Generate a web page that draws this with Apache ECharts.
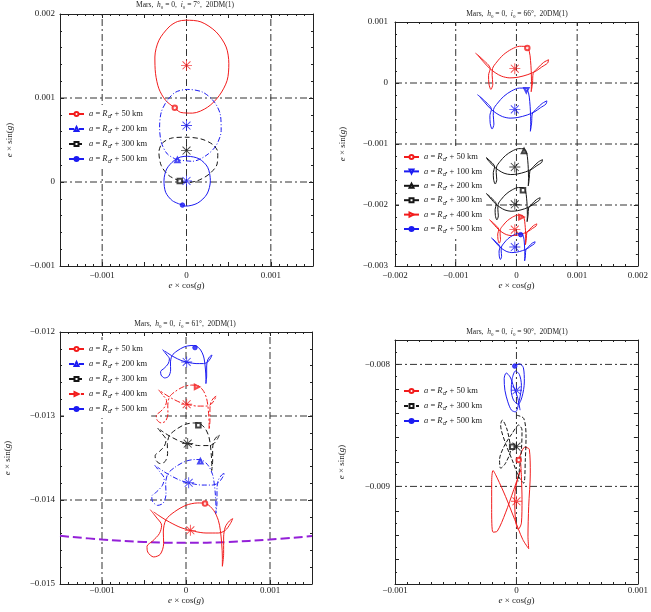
<!DOCTYPE html>
<html>
<head>
<meta charset="utf-8">
<script src="https://cdn.jsdelivr.net/npm/echarts@6/dist/echarts.min.js"></script>
<style>
html, body { margin: 0; padding: 0; background: #fff; }
#chart { width: 651px; height: 612px; }
</style>
</head>
<body>
<div id="chart"></div>
<script>
const MILLI = 1e-3;

// ---- axis ranges [min, max, tick step, minor split] and labelled ticks ----
const p1XRange = [-1.5, 1.5, 0.5, 5], p1YRange = [-1, 2, 1, 5];
const p2XRange = [-2, 2, 1, 5],       p2YRange = [-3, 1, 1, 5];
const p3XRange = [-1.5, 1.5, 0.5, 5], p3YRange = [-15, -12, 1, 5];
const p4XRange = [-1, 1, 1, 10],      p4YRange = [-9.8, -7.8, 0.2, 2];

const p1XLabels = [-1, 0, 1],          p1YLabels = [-1, 0, 1, 2];
const p2XLabels = [-2, -1, 0, 1, 2],   p2YLabels = [-3, -2, -1, 0, 1];
const p3XLabels = [-1, 0, 1],          p3YLabels = [-15, -14, -13, -12];
const p4XLabels = [-1, 0, 1],          p4YLabels = [-9, -8];

// dash-dot reference lines
const p1VLines = [-1, 0, 1], p1HLines = [0, 1];
const p2VLines = [-1, 0, 1], p2HLines = [-2, -1, 0];
const p3VLines = [-1, 0, 1], p3HLines = [-14, -13];
const p4VLines = [0],        p4HLines = [-9, -8];

const inclinations = ['7°', '66°', '61°', '90°'];

// ---- panel 1 : i0 = 7 deg ----
const p1Red50 = [[-0.139,0.883],[-0.247,0.971],[-0.327,1.110],[-0.367,1.289],[-0.375,1.488],[-0.327,1.687],[-0.207,1.846],[-0.108,1.910],[-0.008,1.926],[0.171,1.906],[0.351,1.787],[0.470,1.608],[0.502,1.409],[0.482,1.210],[0.390,1.031],[0.251,0.891],[0.072,0.820],[-0.068,0.828],[-0.139,0.883]];
const p1Blue200 = [[-0.108,0.263],[-0.228,0.334],[-0.299,0.474],[-0.319,0.653],[-0.299,0.832],[-0.228,0.971],[-0.128,1.070],[0.012,1.102],[0.191,1.070],[0.331,0.951],[0.403,0.792],[0.411,0.613],[0.351,0.434],[0.231,0.314],[0.072,0.247],[-0.108,0.263]];
const p1Black300 = [[-0.080,0.012],[-0.208,0.076],[-0.299,0.195],[-0.327,0.354],[-0.287,0.462],[-0.167,0.525],[-0.008,0.533],[0.171,0.513],[0.311,0.446],[0.371,0.354],[0.363,0.215],[0.271,0.096],[0.132,0.016],[-0.008,-0.008],[-0.080,0.012]];
const p1Blue500 = [[-0.048,-0.275],[-0.167,-0.223],[-0.247,-0.123],[-0.267,0.016],[-0.235,0.155],[-0.148,0.255],[-0.068,0.298],[0.012,0.306],[0.151,0.275],[0.251,0.175],[0.283,0.016],[0.243,-0.143],[0.132,-0.251],[-0.008,-0.287],[-0.048,-0.275]];
const p1Stars = [[0,1.389],[0,0.672],[0,0.374],[0,0.012]];
const p1Starts = [[-0.139,0.883],[-0.108,0.263],[-0.080,0.012],[-0.048,-0.275]];

// ---- panel 2 : i0 = 66 deg ----
const p2Red50 = [[-0.675,0.489],[-0.567,0.397],[-0.432,0.235],[-0.459,0.127],[-0.454,-0.008],[-0.421,-0.105],[-0.389,-0.019],[-0.400,0.127],[-0.394,0.235],[-0.324,0.343],[-0.216,0.462],[-0.081,0.554],[0.054,0.602],[0.162,0.597],[0.211,0.521],[0.232,0.370],[0.243,0.208],[0.248,0.019],[0.243,-0.143],[0.265,0.003],[0.275,0.154],[0.351,0.246],[0.448,0.338],[0.529,0.381],[0.513,0.327],[0.416,0.262],[0.324,0.197],[0.189,0.138],[0.027,0.095],[-0.108,0.084],[-0.243,0.111],[-0.351,0.170],[-0.448,0.246],[-0.540,0.343],[-0.632,0.451]];
const p2Blue100 = [[-0.643,-0.191],[-0.540,-0.278],[-0.412,-0.432],[-0.437,-0.535],[-0.432,-0.663],[-0.401,-0.755],[-0.371,-0.673],[-0.381,-0.535],[-0.376,-0.432],[-0.309,-0.329],[-0.207,-0.217],[-0.078,-0.129],[0.050,-0.083],[0.153,-0.088],[0.199,-0.160],[0.219,-0.304],[0.230,-0.458],[0.235,-0.637],[0.230,-0.791],[0.250,-0.653],[0.260,-0.509],[0.332,-0.422],[0.424,-0.335],[0.501,-0.293],[0.486,-0.345],[0.394,-0.406],[0.306,-0.468],[0.178,-0.524],[0.024,-0.565],[-0.104,-0.576],[-0.232,-0.550],[-0.335,-0.494],[-0.427,-0.422],[-0.514,-0.329],[-0.602,-0.227]];
const p2Black200 = [[-0.559,-1.169],[-0.470,-1.244],[-0.359,-1.377],[-0.381,-1.466],[-0.377,-1.576],[-0.350,-1.656],[-0.324,-1.585],[-0.333,-1.466],[-0.328,-1.377],[-0.271,-1.288],[-0.182,-1.191],[-0.071,-1.116],[0.039,-1.076],[0.128,-1.080],[0.168,-1.142],[0.186,-1.266],[0.195,-1.399],[0.199,-1.554],[0.195,-1.687],[0.212,-1.567],[0.221,-1.443],[0.283,-1.368],[0.363,-1.293],[0.429,-1.257],[0.416,-1.302],[0.336,-1.355],[0.261,-1.408],[0.150,-1.457],[0.017,-1.492],[-0.093,-1.501],[-0.204,-1.479],[-0.293,-1.430],[-0.373,-1.368],[-0.448,-1.288],[-0.523,-1.200]];
const p2Black300 = [[-0.513,-1.799],[-0.432,-1.867],[-0.331,-1.989],[-0.351,-2.070],[-0.347,-2.171],[-0.323,-2.244],[-0.298,-2.179],[-0.306,-2.070],[-0.302,-1.989],[-0.250,-1.908],[-0.169,-1.819],[-0.068,-1.750],[0.034,-1.714],[0.115,-1.718],[0.151,-1.774],[0.167,-1.888],[0.176,-2.009],[0.180,-2.151],[0.176,-2.273],[0.192,-2.163],[0.200,-2.050],[0.257,-1.981],[0.329,-1.912],[0.390,-1.880],[0.378,-1.920],[0.305,-1.969],[0.236,-2.017],[0.135,-2.062],[0.014,-2.094],[-0.088,-2.102],[-0.189,-2.082],[-0.270,-2.038],[-0.343,-1.981],[-0.412,-1.908],[-0.481,-1.827]];
const p2Red400 = [[-0.448,-2.239],[-0.378,-2.299],[-0.290,-2.404],[-0.308,-2.474],[-0.304,-2.562],[-0.283,-2.625],[-0.262,-2.569],[-0.269,-2.474],[-0.266,-2.404],[-0.220,-2.334],[-0.150,-2.257],[-0.062,-2.197],[0.026,-2.165],[0.096,-2.169],[0.127,-2.218],[0.141,-2.316],[0.149,-2.422],[0.152,-2.544],[0.149,-2.650],[0.163,-2.555],[0.170,-2.457],[0.219,-2.397],[0.282,-2.337],[0.335,-2.309],[0.324,-2.344],[0.261,-2.386],[0.201,-2.429],[0.113,-2.467],[0.008,-2.495],[-0.080,-2.502],[-0.167,-2.485],[-0.238,-2.446],[-0.301,-2.397],[-0.360,-2.334],[-0.420,-2.264]];
const p2Blue500 = [[-0.416,-2.537],[-0.351,-2.592],[-0.270,-2.689],[-0.286,-2.754],[-0.283,-2.835],[-0.264,-2.893],[-0.244,-2.841],[-0.251,-2.754],[-0.247,-2.689],[-0.205,-2.624],[-0.140,-2.553],[-0.059,-2.498],[0.022,-2.469],[0.086,-2.472],[0.116,-2.517],[0.129,-2.608],[0.135,-2.705],[0.138,-2.819],[0.135,-2.916],[0.148,-2.828],[0.154,-2.738],[0.200,-2.683],[0.258,-2.627],[0.307,-2.602],[0.297,-2.634],[0.239,-2.673],[0.184,-2.712],[0.103,-2.747],[0.005,-2.773],[-0.076,-2.780],[-0.157,-2.764],[-0.221,-2.728],[-0.280,-2.683],[-0.335,-2.624],[-0.390,-2.559]];
const p2Stars = [[-0.027,0.235],[-0.027,-0.432],[-0.027,-1.377],[-0.027,-1.989],[-0.027,-2.404],[-0.027,-2.689]];
const p2Starts = [[0.179,0.574],[0.163,-0.120],[0.125,-1.115],[0.108,-1.760],[0.081,-2.197],[0.070,-2.486]];

// ---- panel 3 : i0 = 61 deg ----
const p3Red50 = [[-0.425,-14.115],[-0.357,-14.202],[-0.290,-14.301],[-0.317,-14.400],[-0.397,-14.488],[-0.464,-14.551],[-0.456,-14.619],[-0.385,-14.678],[-0.306,-14.646],[-0.266,-14.519],[-0.270,-14.381],[-0.238,-14.234],[-0.139,-14.142],[0,-14.063],[0.139,-14.035],[0.238,-14.043],[0.329,-14.123],[0.385,-14.242],[0.409,-14.361],[0.425,-14.519],[0.433,-14.678],[0.433,-14.789],[0.448,-14.639],[0.448,-14.440],[0.468,-14.321],[0.516,-14.250],[0.556,-14.222],[0.528,-14.281],[0.468,-14.361],[0.385,-14.393],[0.238,-14.393],[0.099,-14.373],[-0.060,-14.329],[-0.198,-14.262],[-0.298,-14.202],[-0.385,-14.142]];
const p3Blue200 = [[-0.373,-13.586],[-0.316,-13.660],[-0.259,-13.744],[-0.282,-13.828],[-0.350,-13.903],[-0.407,-13.957],[-0.400,-14.014],[-0.339,-14.064],[-0.272,-14.037],[-0.238,-13.929],[-0.242,-13.812],[-0.215,-13.687],[-0.130,-13.609],[-0.012,-13.542],[0.106,-13.518],[0.190,-13.525],[0.267,-13.593],[0.315,-13.694],[0.335,-13.795],[0.349,-13.929],[0.356,-14.064],[0.356,-14.159],[0.369,-14.031],[0.369,-13.862],[0.386,-13.761],[0.426,-13.701],[0.460,-13.677],[0.437,-13.727],[0.386,-13.795],[0.315,-13.822],[0.190,-13.822],[0.072,-13.805],[-0.063,-13.768],[-0.181,-13.711],[-0.266,-13.660],[-0.339,-13.609]];
const p3Black300 = [[-0.338,-13.143],[-0.287,-13.209],[-0.237,-13.283],[-0.257,-13.357],[-0.317,-13.423],[-0.367,-13.471],[-0.361,-13.522],[-0.308,-13.566],[-0.249,-13.542],[-0.219,-13.447],[-0.222,-13.343],[-0.198,-13.233],[-0.123,-13.164],[-0.019,-13.104],[0.085,-13.083],[0.160,-13.089],[0.228,-13.149],[0.270,-13.239],[0.288,-13.328],[0.300,-13.447],[0.306,-13.566],[0.306,-13.649],[0.317,-13.537],[0.317,-13.387],[0.332,-13.298],[0.368,-13.245],[0.398,-13.224],[0.377,-13.268],[0.332,-13.328],[0.270,-13.352],[0.160,-13.352],[0.055,-13.337],[-0.064,-13.304],[-0.168,-13.254],[-0.243,-13.209],[-0.308,-13.164]];
const p3Red400 = [[-0.326,-12.688],[-0.278,-12.749],[-0.231,-12.818],[-0.250,-12.887],[-0.306,-12.949],[-0.353,-12.993],[-0.348,-13.041],[-0.298,-13.082],[-0.243,-13.060],[-0.215,-12.971],[-0.217,-12.874],[-0.195,-12.771],[-0.126,-12.707],[-0.028,-12.651],[0.069,-12.632],[0.138,-12.637],[0.202,-12.693],[0.241,-12.777],[0.258,-12.860],[0.269,-12.971],[0.275,-13.082],[0.275,-13.160],[0.285,-13.055],[0.285,-12.915],[0.299,-12.832],[0.333,-12.782],[0.361,-12.763],[0.341,-12.804],[0.299,-12.860],[0.241,-12.882],[0.138,-12.882],[0.041,-12.868],[-0.070,-12.838],[-0.167,-12.791],[-0.237,-12.749],[-0.298,-12.707]];
const p3Blue500 = [[-0.278,-12.209],[-0.237,-12.262],[-0.197,-12.321],[-0.213,-12.380],[-0.261,-12.433],[-0.302,-12.471],[-0.297,-12.512],[-0.254,-12.547],[-0.207,-12.528],[-0.183,-12.452],[-0.185,-12.369],[-0.166,-12.281],[-0.107,-12.226],[-0.023,-12.178],[0.060,-12.161],[0.120,-12.166],[0.174,-12.214],[0.208,-12.286],[0.222,-12.357],[0.232,-12.452],[0.237,-12.547],[0.237,-12.614],[0.246,-12.524],[0.246,-12.404],[0.258,-12.333],[0.286,-12.290],[0.310,-12.274],[0.294,-12.309],[0.258,-12.357],[0.208,-12.376],[0.120,-12.376],[0.036,-12.364],[-0.059,-12.338],[-0.142,-12.298],[-0.202,-12.262],[-0.254,-12.226]];
const p3Boundary = [[-1.5,-14.426],[-1.0,-14.470],[-0.5,-14.500],[0,-14.510],[0.5,-14.500],[1.0,-14.470],[1.5,-14.430]];
const p3Stars = [[0.052,-14.361],[0.032,-13.795],[0.020,-13.328],[0.008,-12.860],[0.008,-12.357]];
const p3Starts = [[0.226,-14.043],[0.171,-13.538],[0.147,-13.110],[0.131,-12.654],[0.107,-12.186]];

// ---- panel 4 : i0 = 90 deg ----
const p4Red50 = [[0.019,-8.783],[0.068,-8.679],[0.106,-8.696],[0.114,-8.891],[0.101,-9.163],[0.095,-9.408],[0.101,-9.511],[0.052,-9.435],[-0.014,-9.272],[-0.090,-9.082],[-0.158,-8.932],[-0.193,-8.870],[-0.204,-8.973],[-0.204,-9.190],[-0.193,-9.375],[-0.158,-9.367],[-0.090,-9.217],[-0.022,-9.027],[0.035,-8.864],[0.014,-8.918],[-0.014,-9.082],[-0.008,-9.272],[0.014,-9.353],[0.041,-9.299],[0.046,-9.109],[0.041,-8.918],[0.035,-8.810]];
const p4Black300 = [[0,-8.416],[0.060,-8.443],[0.079,-8.592],[0.073,-8.783],[0.060,-8.973],[0.019,-8.921],[-0.035,-8.783],[-0.090,-8.647],[-0.130,-8.497],[-0.117,-8.457],[-0.076,-8.538],[-0.049,-8.701],[-0.090,-8.810],[-0.130,-8.851],[-0.139,-8.783],[-0.103,-8.674],[-0.035,-8.565],[0.019,-8.497],[0.046,-8.538],[0.041,-8.701],[0.024,-8.864],[0.014,-8.959]];
const p4Blue500 = [[-0.014,-8.014],[0.024,-7.995],[0.057,-8.027],[0.065,-8.144],[0.046,-8.266],[0.014,-8.326],[-0.024,-8.293],[-0.043,-8.212],[-0.035,-8.117],[-0.008,-8.054],[0.024,-8.082],[0.041,-8.171],[0.024,-8.293],[-0.008,-8.389],[-0.041,-8.375],[-0.071,-8.307],[-0.095,-8.212],[-0.101,-8.117],[-0.084,-8.071],[-0.052,-8.103],[-0.022,-8.185],[0.008,-8.266],[0.030,-8.375]];
const p4Stars = [[0,-9.122],[0,-8.674],[0,-8.212]];
const p4Starts = [[0.019,-8.783],[-0.035,-8.674],[-0.014,-8.014]];

// ---- styles ----
const RED = '#f21c1c', BLUE = '#1c1cf2', BLACK = '#161616', PURPLE = '#9420d8';
const SERIF = '"Liberation Serif", "DejaVu Serif", serif';
const TXT = '#222';
const STAR = 'path://M-1,-0.08L1,-0.08L1,0.08L-1,0.08Z M-0.08,-1L0.08,-1L0.08,1L-0.08,1Z M0.78,0.66L0.66,0.78L-0.78,-0.66L-0.66,-0.78Z M-0.66,0.78L-0.78,0.66L0.66,-0.78L0.78,-0.66Z';
const SYM = {
  50: ['emptyCircle', 0], 100: ['emptyTriangle', 180], 200: ['emptyTriangle', 0],
  300: ['emptyRect', 0], 400: ['emptyTriangle', -90], 500: ['circle', 0]
};
const DASH = [5, 2, 1, 2], LDASH = [5, 3], GRIDDASH = [7, 3, 2, 3];

const LAYOUT = [
  { grid: { left: 60, top: 14, width: 253, height: 252 }, title: [185, 5], xLab: 5, xName: 14, yLab: 5, yName: 46, legend: { left: 64, top: 105, itemGap: 3 } },
  { grid: { left: 395, top: 22, width: 246, height: 244 }, title: [517, 14], xLab: 5, xName: 14, yLab: 7, yName: 48, legend: { left: 399, top: 148, itemGap: 2.4 } },
  { grid: { left: 60, top: 332, width: 252, height: 252 }, title: [185, 324], xLab: 2, xName: 11, yLab: 5, yName: 48, legend: { left: 64, top: 340, itemGap: 3 } },
  { grid: { left: 395, top: 340, width: 246, height: 244 }, title: [517, 332], xLab: 2, xName: 11, yLab: 5, yName: 49, legend: { left: 399, top: 382, itemGap: 3 } }
];

const ranges = [[p1XRange, p1YRange], [p2XRange, p2YRange], [p3XRange, p3YRange], [p4XRange, p4YRange]];
const labels = [[p1XLabels, p1YLabels], [p2XLabels, p2YLabels], [p3XLabels, p3YLabels], [p4XLabels, p4YLabels]];
const refLines = [[p1VLines, p1HLines], [p2VLines, p2HLines], [p3VLines, p3HLines], [p4VLines, p4HLines]];

// [panel, km, colour, line type, curve, star, start marker]
const curves = [
  [0, 50, RED, 'solid', p1Red50, p1Stars[0], p1Starts[0]],
  [0, 200, BLUE, DASH, p1Blue200, p1Stars[1], p1Starts[1]],
  [0, 300, BLACK, LDASH, p1Black300, p1Stars[2], p1Starts[2]],
  [0, 500, BLUE, 'solid', p1Blue500, p1Stars[3], p1Starts[3]],
  [1, 50, RED, 'solid', p2Red50, p2Stars[0], p2Starts[0]],
  [1, 100, BLUE, 'solid', p2Blue100, p2Stars[1], p2Starts[1]],
  [1, 200, BLACK, 'solid', p2Black200, p2Stars[2], p2Starts[2]],
  [1, 300, BLACK, 'solid', p2Black300, p2Stars[3], p2Starts[3]],
  [1, 400, RED, 'solid', p2Red400, p2Stars[4], p2Starts[4]],
  [1, 500, BLUE, 'solid', p2Blue500, p2Stars[5], p2Starts[5]],
  [2, 50, RED, 'solid', p3Red50, p3Stars[0], p3Starts[0]],
  [2, 200, BLUE, DASH, p3Blue200, p3Stars[1], p3Starts[1]],
  [2, 300, BLACK, LDASH, p3Black300, p3Stars[2], p3Starts[2]],
  [2, 400, RED, [6, 2, 2, 2], p3Red400, p3Stars[3], p3Starts[3]],
  [2, 500, BLUE, 'solid', p3Blue500, p3Stars[4], p3Starts[4]],
  [3, 50, RED, 'solid', p4Red50, p4Stars[0], p4Starts[0]],
  [3, 300, BLACK, [4, 2], p4Black300, p4Stars[1], p4Starts[1]],
  [3, 500, BLUE, 'solid', p4Blue500, p4Stars[2], p4Starts[2]]
];

const toReal = p => [p[0] * MILLI, p[1] * MILLI];

function fmt(v) {
  const m = Math.round(v / MILLI);
  if (m === 0) return '0';
  return (m < 0 ? '\u2212' : '') + (Math.abs(m) * MILLI).toFixed(3);
}

function axisPair(g, dim, r, labs) {
  const lay = LAYOUT[g];
  const isX = dim === 'x';
  const base = {
    gridIndex: g, type: 'value',
    min: r[0] * MILLI, max: r[1] * MILLI, interval: r[2] * MILLI,
    axisLine: { show: true, onZero: false, lineStyle: { color: TXT, width: 1 } },
    axisTick: { show: true, inside: true, length: 4, lineStyle: { color: TXT } },
    minorTick: { show: true, splitNumber: r[3], length: 2, lineStyle: { color: TXT } },
    splitLine: { show: false }
  };
  const main = Object.assign({}, base, {
    position: isX ? 'bottom' : 'left',
    axisLabel: {
      show: true, margin: isX ? lay.xLab : lay.yLab, color: TXT, fontFamily: SERIF, fontSize: 9,
      formatter: v => labs.some(l => Math.abs(v / MILLI - l) < 1e-6) ? fmt(v) : ''
    },
    name: isX ? '{i|e} × cos({i|g})' : '{i|e} × sin({i|g})',
    nameLocation: 'middle',
    nameGap: isX ? lay.xName : lay.yName,
    nameTextStyle: { color: TXT, fontFamily: SERIF, fontSize: 9, rich: { i: { fontStyle: 'italic', fontFamily: SERIF, fontSize: 9, color: TXT } } }
  });
  const mirror = Object.assign({}, base, {
    position: isX ? 'top' : 'right',
    axisLabel: { show: false }
  });
  return [main, mirror];
}

const xAxis = [], yAxis = [];
ranges.forEach((r, g) => {
  xAxis.push(...axisPair(g, 'x', r[0], labels[g][0]));
  yAxis.push(...axisPair(g, 'y', r[1], labels[g][1]));
});

const series = [];
// dash-dot reference lines, spanning the whole plot
refLines.forEach((rl, g) => {
  const [xr, yr] = ranges[g];
  const segs = rl[0].map(v => [[v, yr[0]], [v, yr[1]]])
    .concat(rl[1].map(v => [[xr[0], v], [xr[1], v]]));
  segs.forEach(seg => {
    series.push({
      type: 'line', xAxisIndex: 2 * g, yAxisIndex: 2 * g, data: seg.map(toReal),
      showSymbol: false, silent: true, z: 1, animation: false,
      lineStyle: { color: '#333', width: 1, type: GRIDDASH }
    });
  });
});

const legendNames = [[], [], [], []];
curves.forEach(([g, km, color, dash, pts, star, start]) => {
  const name = 'p' + (g + 1) + ':' + km;
  const [sym, rot] = SYM[km];
  legendNames[g].push(name);
  series.push({
    type: 'line', name, xAxisIndex: 2 * g, yAxisIndex: 2 * g,
    data: pts.map(toReal), showSymbol: false, symbol: sym, symbolRotate: rot, symbolSize: 4,
    smooth: 0.3, lineStyle: { color, width: 1, type: dash },
    itemStyle: { color, borderColor: color, borderWidth: 1 }, z: 3, animation: false
  });
  series.push({
    type: 'scatter', xAxisIndex: 2 * g, yAxisIndex: 2 * g, data: [toReal(star)],
    symbol: STAR, symbolSize: 11, itemStyle: { color }, z: 4, silent: true, animation: false
  });
  series.push({
    type: 'scatter', xAxisIndex: 2 * g, yAxisIndex: 2 * g, data: [toReal(start)],
    symbol: sym, symbolRotate: rot, symbolSize: 4.5,
    itemStyle: { color, borderColor: color, borderWidth: 1 }, z: 5, silent: true, animation: false
  });
});

// purple dashed curve of panel 3
series.push({
  type: 'line', xAxisIndex: 4, yAxisIndex: 4, data: p3Boundary.map(toReal),
  showSymbol: false, smooth: 0.4, silent: true, z: 2, animation: false,
  lineStyle: { color: PURPLE, width: 2, type: [9, 4] }
});

const legend = LAYOUT.map((lay, g) => ({
  orient: 'vertical', left: lay.legend.left, top: lay.legend.top,
  itemGap: lay.legend.itemGap, itemWidth: 15, itemHeight: 5,
  padding: [3, 4, 3, 4], backgroundColor: '#fff', z: 10,
  selectedMode: false, data: legendNames[g],
  formatter: n => '{i|a} = {i|R}{s|♂} + ' + n.split(':')[1] + ' km',
  textStyle: {
    color: TXT, fontFamily: SERIF, fontSize: 8.5, lineHeight: 12,
    rich: {
      i: { fontStyle: 'italic', fontFamily: SERIF, fontSize: 8.5, color: TXT, lineHeight: 12 },
      s: { fontFamily: '"DejaVu Sans", sans-serif', fontSize: 5.5, color: TXT, verticalAlign: 'bottom', lineHeight: 12 }
    }
  }
}));

const graphic = LAYOUT.map((lay, g) => ({
  type: 'text', x: lay.title[0], y: lay.title[1], silent: true,
  style: {
    text: 'Mars,  {i|h}{s|0} = 0,  {i|i}{s|0} = ' + inclinations[g] + ',  20DM(1)',
    align: 'center', verticalAlign: 'middle', textAlign: 'center', textVerticalAlign: 'middle',
    fontFamily: SERIF, fontSize: 7.5, fill: TXT,
    rich: {
      i: { fontStyle: 'italic', fontFamily: SERIF, fontSize: 7.5, fill: TXT, lineHeight: 10 },
      s: { fontFamily: SERIF, fontSize: 5, fill: TXT, verticalAlign: 'bottom', lineHeight: 10 }
    }
  }
}));

const chart = echarts.init(document.getElementById('chart'));
chart.setOption({
  animation: false,
  backgroundColor: '#fff',
  grid: LAYOUT.map(l => Object.assign({ containLabel: false }, l.grid)),
  xAxis, yAxis, legend, graphic, series
});
</script>
</body>
</html>
